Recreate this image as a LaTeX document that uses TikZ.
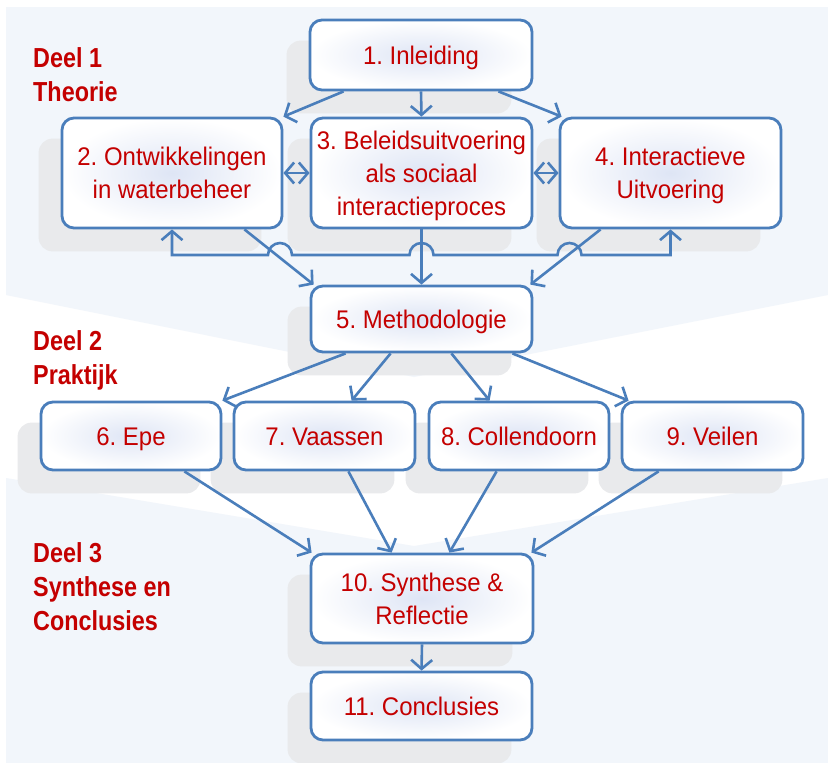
\documentclass[tikz,border=0pt]{standalone}
\usepackage{fontspec}
\setmainfont{Liberation Sans}[FakeStretch=0.94]
\newfontfamily\deelfont{Liberation Sans}[FakeStretch=0.85]
\usetikzlibrary{arrows.meta}
\frenchspacing

\definecolor{bandc}{RGB}{242,246,251}
\definecolor{shadowc}{RGB}{233,234,236}
\definecolor{boxblue}{RGB}{74,126,187}
\definecolor{txtred}{RGB}{196,0,0}
\definecolor{glowc}{RGB}{222,229,245}

% one text line: fixed height and depth so every line sits the same way
\newcommand\lstrut{\rule[-7.5pt]{0pt}{33pt}}

\pgfdeclarelayer{back}
\pgfdeclarelayer{shade}
\pgfsetlayers{back,shade,main}

\begin{document}
\begin{tikzpicture}[x=1pt,y=1pt,
  box/.style={draw=boxblue, line width=2.8pt, rounded corners=12pt,
    inner color=glowc, outer color=white, text=txtred,
    font=\fontsize{25.5}{33}\selectfont, align=center, inner sep=0pt},
  tip/.tip={Straight Barb[length=9pt,width=21pt]},
  conn/.style={draw=boxblue, line width=2.6pt, -tip},
  conn2/.style={draw=boxblue, line width=2.6pt, tip-tip},
  deel/.style={anchor=north west, inner sep=0pt, align=left, text=txtred,
    font=\deelfont\bfseries\fontsize{27.5}{34}\selectfont}]

\useasboundingbox (0,0) rectangle (828,-763);

% background bands for the three parts
\begin{pgfonlayer}{back}
  \fill[white] (0,0) rectangle (828,-763);
  \fill[bandc] (6,-7) -- (828,-7) -- (828,-295) -- (414,-377) -- (6,-295) -- cycle;
  \fill[bandc] (6,-478) -- (414,-546) -- (828,-478) -- (828,-763) -- (6,-763) -- cycle;
\end{pgfonlayer}

% part labels
\node[deel] (d1) at (33,-47) {Deel 1\\Theorie};
\node[deel] (d2) at (33,-330) {Deel 2\\Praktijk};
\node[deel] (d3) at (33,-542) {Deel 3\\Synthese en\\Conclusies};

% chapters
\node[box, minimum width=222pt, minimum height=70pt] (n1) at (421,-55) {\lstrut 1. Inleiding};
\node[box, minimum width=220pt, minimum height=110pt] (n2) at (172,-173) {\lstrut 2. Ontwikkelingen\\\lstrut in waterbeheer};
\node[box, minimum width=221pt, minimum height=110pt] (n3) at (421.5,-173) {\lstrut 3. Beleidsuitvoering\\\lstrut als sociaal\\\lstrut interactieproces};
\node[box, minimum width=221pt, minimum height=110pt] (n4) at (670.5,-173) {\lstrut 4. Interactieve\\\lstrut Uitvoering};
\node[box, minimum width=221pt, minimum height=66pt] (n5) at (421.5,-319) {\lstrut 5. Methodologie};
\node[box, minimum width=180pt, minimum height=68pt] (n6) at (131,-436) {\lstrut 6. Epe};
\node[box, minimum width=181pt, minimum height=68pt] (n7) at (324.5,-436) {\lstrut 7. Vaassen};
\node[box, minimum width=180pt, minimum height=68pt] (n8) at (519,-436) {\lstrut 8. Collendoorn};
\node[box, minimum width=181pt, minimum height=68pt] (n9) at (712.5,-436) {\lstrut 9. Veilen};
\node[box, minimum width=222pt, minimum height=89pt] (n10) at (422,-598.5) {\lstrut 10. Synthese \&\\\lstrut Reflectie};
\node[box, minimum width=221pt, minimum height=68pt] (n11) at (421.5,-706) {\lstrut 11. Conclusies};

% soft offset shadows behind the chapters
\begin{pgfonlayer}{shade}
  \foreach \n in {n1,n2,n3,n4,n5,n6,n7,n8,n9,n10,n11}
    \fill[shadowc, rounded corners=14pt]
      ([shift={(-22pt,-22pt)}]\n.south west) rectangle ([shift={(-22pt,-22pt)}]\n.north east);
\end{pgfonlayer}

% part 1
\draw[conn] ([xshift=35pt]n1.south west) -- (n2.north east);
\draw[conn] (n1.south) -- (n3.north);
\draw[conn] ([xshift=-35pt]n1.south east) -- ([xshift=3pt]n4.north west);
\draw[conn2] (n2.east) -- (n3.west);
\draw[conn2] (n3.east) -- (n4.west);

% link between 2 and 4, hopping over the lines into 5
\coordinate (fb) at (0,-255);
\draw[conn2] (n2.south) -- (n2.south |- fb) -- (268,-255)
  arc[start angle=180, end angle=0, radius=12pt] -- (409.5,-255)
  arc[start angle=180, end angle=0, radius=12pt] -- (557.5,-255)
  arc[start angle=180, end angle=0, radius=12pt] -- (n4.south |- fb) -- (n4.south);

\draw[conn] ([xshift=-39pt]n2.south east) -- ([xshift=4pt]n5.north west);
\draw[conn] (n3.south) -- (n5.north);
\draw[conn] ([xshift=42pt]n4.south west) -- ([xshift=-3pt]n5.north east);

% part 2
\draw[conn] ([xshift=36pt]n5.south west) -- (n6.north east);
\draw[conn] ([xshift=81pt]n5.south west) -- ([xshift=119pt]n7.north west);
\draw[conn] ([xshift=-82pt]n5.south east) -- ([xshift=62pt]n8.north west);
\draw[conn] ([xshift=-21pt]n5.south east) -- ([xshift=8pt]n9.north west);

% part 3
\draw[conn] ([xshift=-38pt]n6.south east) -- ([xshift=2pt]n10.north west);
\draw[conn] ([xshift=-68pt]n7.south east) -- ([xshift=82pt]n10.north west);
\draw[conn] ([xshift=69pt]n8.south west) -- ([xshift=-85pt]n10.north east);
\draw[conn] ([xshift=38pt]n9.south west) -- ([xshift=-3pt]n10.north east);
\draw[conn] (n10.south) -- (n11.north);

\end{tikzpicture}
\end{document}
